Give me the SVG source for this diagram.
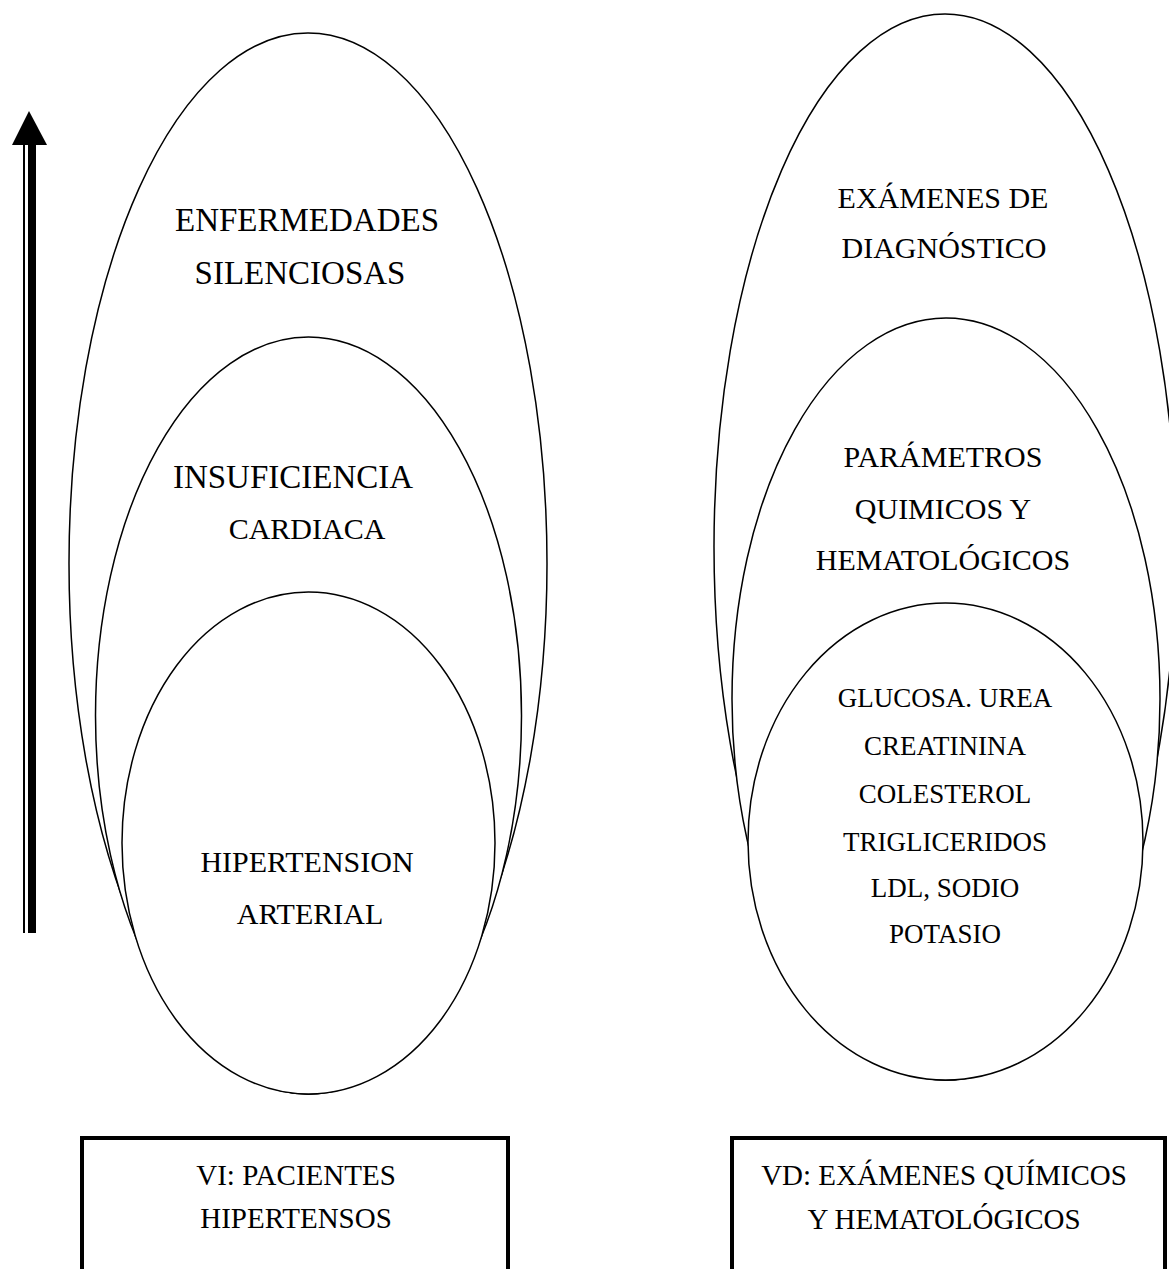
<svg xmlns="http://www.w3.org/2000/svg" width="1169" height="1269" viewBox="0 0 1169 1269">
<style>
.e{fill:#fff;stroke:#000;stroke-width:1.5}
.t{font-family:"Liberation Serif","Times New Roman",serif;font-size:30px;fill:#000;text-anchor:middle}
.l{font-size:33px}
.s{font-size:27px}
.m{font-size:29px}
.b{fill:#fff;stroke:#000;stroke-width:4}
</style>
<rect width="1169" height="1269" fill="#fff"/>
<g id="connectors">
<rect x="23" y="144" width="2" height="789" fill="#000"/>
<rect x="28" y="144" width="8" height="789" fill="#000"/>
<polygon points="29,111 12,145 47,145" fill="#000"/>
</g>
<g id="left-outer"><ellipse class="e" cx="308" cy="563.5" rx="239" ry="530.5"/><text class="t l" x="307" y="231">ENFERMEDADES</text><text class="t l" x="300" y="284">SILENCIOSAS</text></g>
<g id="left-middle"><ellipse class="e" cx="308.5" cy="715.5" rx="213" ry="378.5"/><text class="t l" x="293" y="488">INSUFICIENCIA</text><text class="t" x="307" y="539">CARDIACA</text></g>
<g id="left-inner"><ellipse class="e" cx="308.5" cy="843" rx="186.5" ry="251"/><text class="t" x="307" y="872">HIPERTENSION</text><text class="t" x="310" y="924">ARTERIAL</text></g>
<g id="right-outer"><ellipse class="e" cx="945" cy="547" rx="231" ry="533"/><text class="t" x="943" y="208">EXÁMENES DE</text><text class="t" x="944" y="258">DIAGNÓSTICO</text></g>
<g id="right-middle"><ellipse class="e" cx="946" cy="699" rx="214" ry="381"/><text class="t" x="943" y="467">PARÁMETROS</text><text class="t" x="943" y="519">QUIMICOS Y</text><text class="t" x="943" y="570">HEMATOLÓGICOS</text></g>
<g id="right-inner"><ellipse class="e" cx="945.5" cy="841.5" rx="197.5" ry="238.5"/>
<text class="t s" x="945" y="707">GLUCOSA. UREA</text><text class="t s" x="945" y="755">CREATININA</text><text class="t s" x="945" y="803">COLESTEROL</text><text class="t s" x="945" y="851">TRIGLICERIDOS</text><text class="t s" x="945" y="897">LDL, SODIO</text><text class="t s" x="945" y="943">POTASIO</text></g>
<g id="box-vi"><rect class="b" x="82" y="1138" width="426" height="160"/><text class="t m" x="296" y="1185">VI: PACIENTES</text><text class="t m" x="296" y="1228">HIPERTENSOS</text></g>
<g id="box-vd"><rect class="b" x="732" y="1138" width="433" height="160"/><text class="t m" x="944" y="1185">VD: EXÁMENES QUÍMICOS</text><text class="t m" x="944" y="1229">Y HEMATOLÓGICOS</text></g>
</svg>
